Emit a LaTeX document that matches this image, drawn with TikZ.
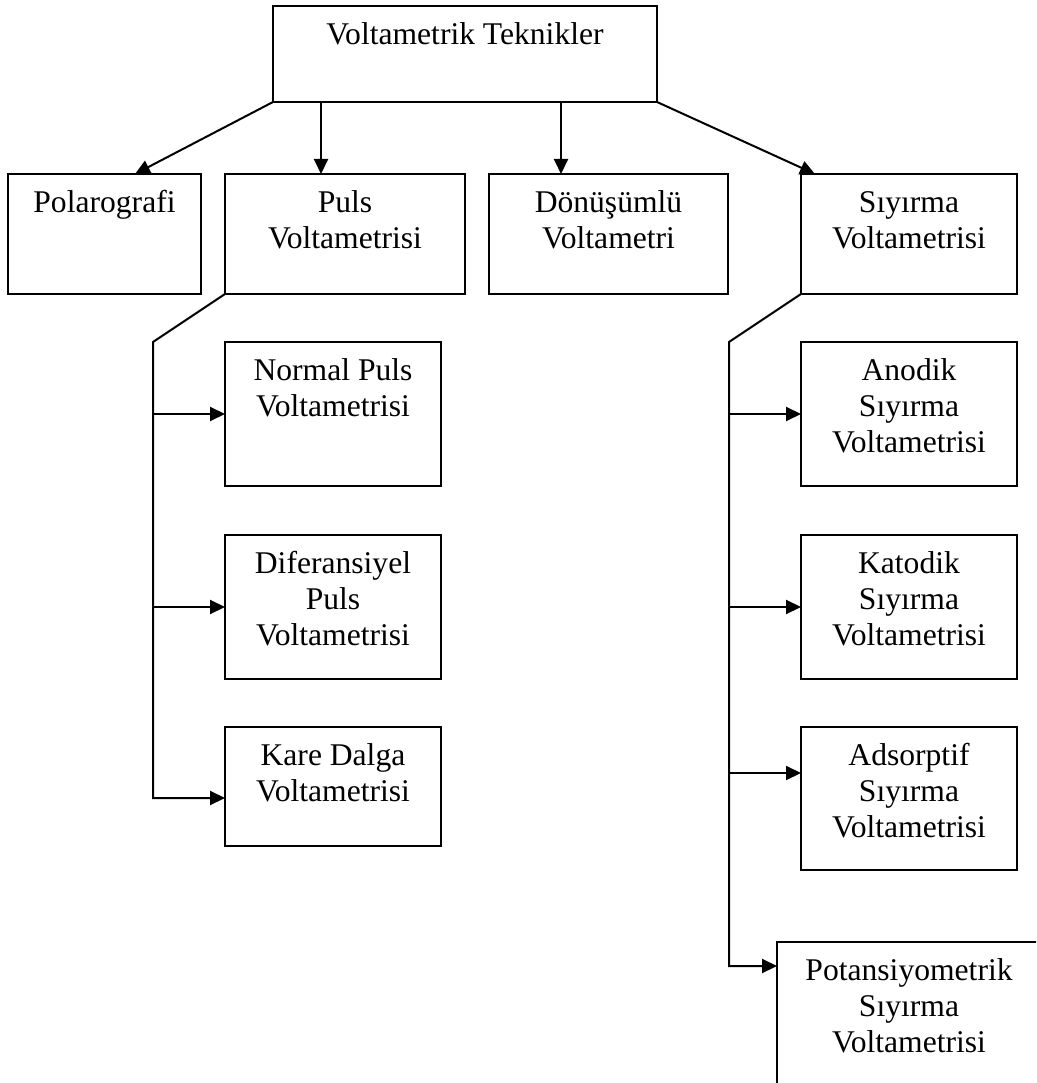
\documentclass[tikz,border=0pt]{standalone}
\usepackage{fontspec}
\setmainfont{Liberation Serif}
\usetikzlibrary{arrows.meta,calc}
\begin{document}
\begin{tikzpicture}[x=1pt,y=-1pt,
  box/.style={draw, line width=2pt, inner sep=0pt, outer sep=0pt, anchor=north west},
  lbl/.style={font=\fontsize{31.6}{36.3}\selectfont, align=center, inner sep=0pt, anchor=north},
  arr/.style={line width=2pt, -{Triangle[length=15pt,width=14pt]}}]
\useasboundingbox (0,0) rectangle (1036,1083);
\clip (0,0) rectangle (1036,1083);
% boxes
\node[box, minimum width=384, minimum height=96] (top) at (273,6) {};
\node[box, minimum width=193, minimum height=120] (pol) at (8,174) {};
\node[box, minimum width=240, minimum height=120] (puls) at (225,174) {};
\node[box, minimum width=239, minimum height=120] (don) at (489,174) {};
\node[box, minimum width=216, minimum height=120] (siy) at (801,174) {};
\node[box, minimum width=216, minimum height=144] (np) at (225,342) {};
\node[box, minimum width=216, minimum height=144] (dp) at (225,535) {};
\node[box, minimum width=216, minimum height=119] (kd) at (225,727) {};
\node[box, minimum width=216, minimum height=144] (an) at (801,342) {};
\node[box, minimum width=216, minimum height=144] (kat) at (801,535) {};
\node[box, minimum width=216, minimum height=143] (ads) at (801,727) {};
\node[box, minimum width=264, minimum height=144] (pot) at (777,942) {};
% labels
\node[lbl] (topt) at ([yshift=-12.6pt]top.north) {\strut Voltametrik Teknikler};
\node[lbl] (polt) at ([yshift=-12.6pt]pol.north) {\strut Polarografi};
\node[lbl] (pulst) at ([yshift=-12.6pt]puls.north) {\strut Puls\\Voltametrisi};
\node[lbl] (dont) at ([yshift=-12.6pt]don.north) {\strut Dönüşümlü\\Voltametri};
\node[lbl] (siyt) at ([yshift=-12.6pt]siy.north) {\strut Sıyırma\\Voltametrisi};
\node[lbl] (npt) at ([yshift=-12.6pt]np.north) {\strut Normal Puls\\Voltametrisi};
\node[lbl] (dpt) at ([yshift=-12.6pt]dp.north) {\strut Diferansiyel\\Puls\\Voltametrisi};
\node[lbl] (kdt) at ([yshift=-12.6pt]kd.north) {\strut Kare Dalga\\Voltametrisi};
\node[lbl] (ant) at ([yshift=-12.6pt]an.north) {\strut Anodik\\Sıyırma\\Voltametrisi};
\node[lbl] (katt) at ([yshift=-12.6pt]kat.north) {\strut Katodik\\Sıyırma\\Voltametrisi};
\node[lbl] (adst) at ([yshift=-12.6pt]ads.north) {\strut Adsorptif\\Sıyırma\\Voltametrisi};
\node[lbl] (pott) at ([yshift=-12.6pt]pot.north) {\strut Potansiyometrik\\Sıyırma\\Voltametrisi};
% top connectors
\draw[arr] (top.south west) -- ([xshift=127pt]pol.north west);
\draw[arr] ([xshift=48pt]top.south west) -- ([xshift=96pt]puls.north west);
\draw[arr] ([xshift=288pt]top.south west) -- ([xshift=72pt]don.north west);
\draw[arr] (top.south east) -- ([xshift=14pt]siy.north west);
% left branch
\coordinate (lb) at (153,342);
\coordinate (lbe) at (153,798);
\draw[arr] (puls.south west) -- (lb) -- (lbe) -- (lbe -| kd.west);
\draw[arr] (lb |- np.west) -- (np.west);
\draw[arr] (lb |- dp.west) -- (dp.west);
% right branch
\coordinate (rb) at (729,342);
\coordinate (ra) at (729,773);
\coordinate (rbe) at (729,966);
\draw[arr] (siy.south west) -- (rb) -- (rbe) -- (rbe -| pot.west);
\draw[arr] (rb |- an.west) -- (an.west);
\draw[arr] (rb |- kat.west) -- (kat.west);
\draw[arr] (ra) -- (ra -| ads.west);
\end{tikzpicture}
\end{document}
